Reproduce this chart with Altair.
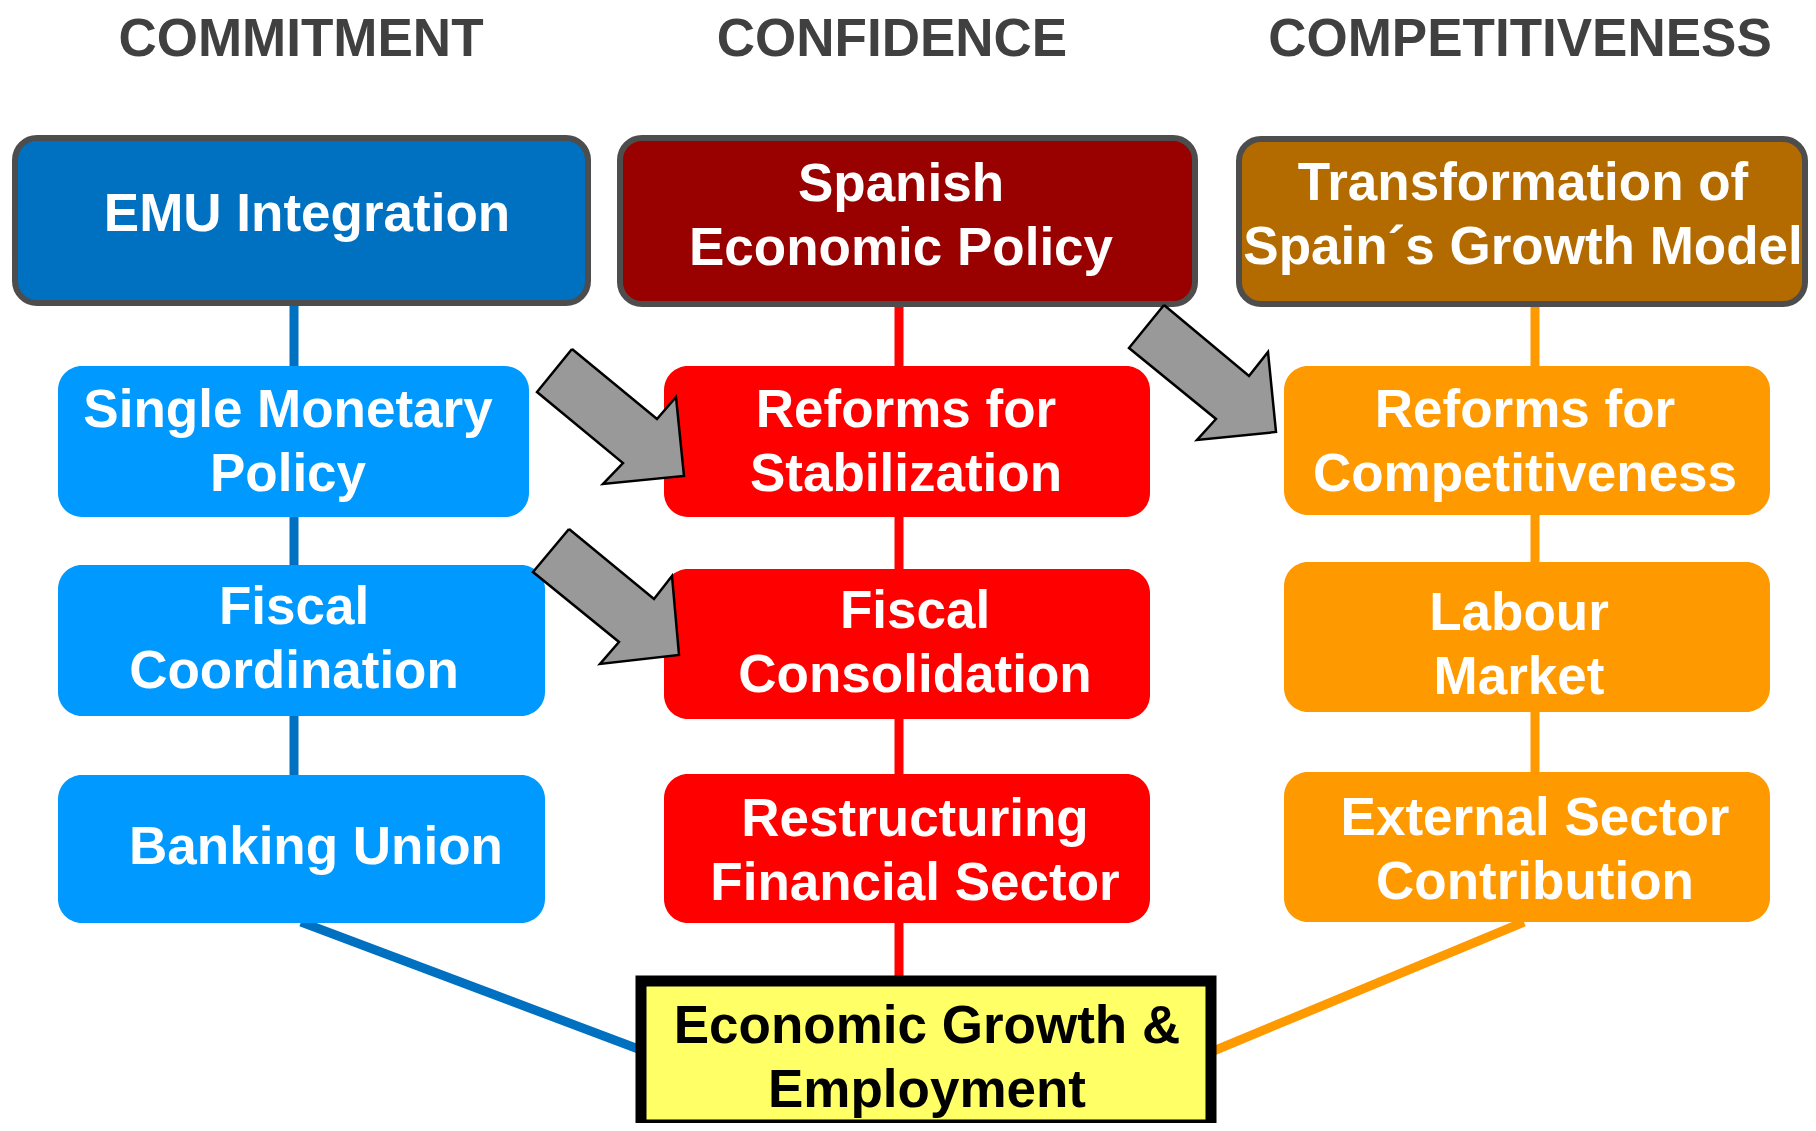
import altair as alt
import pandas as pd

FONT = "Liberation Sans, Arial, sans-serif"

# ---- column headings ----
heading_text = ["COMMITMENT", "CONFIDENCE", "COMPETITIVENESS"]
heading_cx = [301, 892, 1520]
heading_base = [56, 56, 56]

# ---- top boxes ----
top_labels = ["EMU Integration", "Spanish\nEconomic Policy", "Transformation of\nSpain´s Growth Model"]
top_x0 = [15, 620, 1239]
top_x1 = [588, 1195, 1805]
top_y0 = [138, 138, 139]
top_y1 = [303, 304, 304]
top_fill = ["#0070C0", "#990000", "#B36B00"]
top_text_cx = [307, 901, 1523]
top_text_base = [231, 201, 200]

# ---- sub boxes ----
sub_labels = ["Single Monetary\nPolicy", "Fiscal\nCoordination", "Banking Union",
              "Reforms for\nStabilization", "Fiscal\nConsolidation", "Restructuring\nFinancial Sector",
              "Reforms for\nCompetitiveness", "Labour\nMarket", "External Sector\nContribution"]
sub_x0 = [58, 58, 58, 664, 664, 664, 1284, 1284, 1284]
sub_x1 = [529, 545, 545, 1150, 1150, 1150, 1770, 1770, 1770]
sub_y0 = [366, 565, 775, 366, 569, 774, 366, 562, 772]
sub_y1 = [517, 716, 923, 517, 719, 923, 515, 712, 922]
sub_fill = ["#0099FF"] * 3 + ["#FF0000"] * 3 + ["#FF9900"] * 3
sub_text_cx = [288, 294, 316, 906, 915, 915, 1525, 1519, 1535]
sub_text_base = [427, 624, 864, 427, 628, 836, 427, 630, 835]

# ---- bottom box ----
bottom_label = "Economic Growth &\nEmployment"
bottom_box = [641, 1211, 981, 1125]
bottom_text_cx = 927
bottom_text_base = 1043

LINE_GAP = 64

# ---- connectors ----
conn_x = [294, 899, 1535, 301, 1524]
conn_y = [303, 304, 304, 922, 922]
conn_x2 = [294, 899, 1535, 641, 1211]
conn_y2 = [776, 981, 772, 1050, 1052]
conn_color = ["#0070C0", "#FF0000", "#FF9900", "#0070C0", "#FF9900"]

# ---- grey block arrows (polygon vertices) ----
arrow_1_x = [572, 657, 676, 684, 603, 623, 537, 572]
arrow_1_y = [349, 419, 397, 476, 484, 463, 392, 349]
arrow_2_x = [569, 654, 672, 679, 600, 619, 533, 569]
arrow_2_y = [529, 599, 576, 655, 664, 642, 572, 529]
arrow_3_x = [1164, 1249, 1268, 1276, 1197, 1216, 1129, 1164]
arrow_3_y = [305, 376, 352, 432, 440, 419, 348, 305]

# ---------------- tables ----------------
xs = alt.Scale(domain=[8, 1808], nice=False, zero=False)
ys = alt.Scale(domain=[8, 1123], nice=False, zero=False, reverse=True)


def X(f):
    return alt.X(f, type="quantitative", scale=xs, axis=None)


def Y(f):
    return alt.Y(f, type="quantitative", scale=ys, axis=None)


conn_df = pd.DataFrame({"x": conn_x, "y": conn_y, "x2": conn_x2, "y2": conn_y2, "c": conn_color})
top_df = pd.DataFrame({"x": top_x0, "x2": top_x1, "y": top_y0, "y2": top_y1, "c": top_fill})
sub_df = pd.DataFrame({"x": sub_x0, "x2": sub_x1, "y": sub_y0, "y2": sub_y1, "c": sub_fill})
bot_df = pd.DataFrame({"x": [bottom_box[0]], "x2": [bottom_box[1]], "y": [bottom_box[2]], "y2": [bottom_box[3]]})

arrow_rows = []
for k, (ax, ay) in enumerate([(arrow_1_x, arrow_1_y), (arrow_2_x, arrow_2_y), (arrow_3_x, arrow_3_y)]):
    for i, (px, py) in enumerate(zip(ax, ay)):
        arrow_rows.append({"arrow": f"a{k}", "i": i, "x": px, "y": py})
arrow_df = pd.DataFrame(arrow_rows)

text_rows = []
for lab, cx, b in zip(top_labels + sub_labels, top_text_cx + sub_text_cx, top_text_base + sub_text_base):
    for j, line in enumerate(lab.split("\n")):
        text_rows.append({"t": line, "x": cx, "y": b + j * LINE_GAP, "c": "white"})
for j, line in enumerate(bottom_label.split("\n")):
    text_rows.append({"t": line, "x": bottom_text_cx, "y": bottom_text_base + j * LINE_GAP, "c": "black"})
for t, cx, b in zip(heading_text, heading_cx, heading_base):
    text_rows.append({"t": t, "x": cx, "y": b, "c": "#404040"})
text_df = pd.DataFrame(text_rows)

# ---------------- layers ----------------
connectors = alt.Chart(conn_df).mark_rule(strokeWidth=9, strokeCap="butt").encode(
    x=X("x"), y=Y("y"), x2="x2", y2="y2", color=alt.Color("c:N", scale=None)
)

top_boxes = alt.Chart(top_df).mark_rect(cornerRadius=22, stroke="#4D4D4D", strokeWidth=6).encode(
    x=X("x"), x2="x2", y=Y("y"), y2="y2", fill=alt.Fill("c:N", scale=None)
)

sub_boxes = alt.Chart(sub_df).mark_rect(cornerRadius=24).encode(
    x=X("x"), x2="x2", y=Y("y"), y2="y2", fill=alt.Fill("c:N", scale=None)
)

bottom = alt.Chart(bot_df).mark_rect(fill="#FFFF66", stroke="black", strokeWidth=11).encode(
    x=X("x"), x2="x2", y=Y("y"), y2="y2"
)

arrows = alt.Chart(arrow_df).mark_line(
    fill="#999999", stroke="black", strokeWidth=2.5, strokeJoin="miter"
).encode(x=X("x"), y=Y("y"), order="i:Q", detail="arrow:N")

texts = alt.Chart(text_df).mark_text(
    font=FONT, fontSize=53, fontWeight="bold", align="center", baseline="alphabetic"
).encode(x=X("x"), y=Y("y"), text="t:N", color=alt.Color("c:N", scale=None))

chart = alt.layer(connectors, top_boxes, sub_boxes, bottom, arrows, texts).properties(
    width=1800, height=1115, padding=0, autosize="none", background="white"
).configure_view(strokeWidth=0)

chart.save("out.html", embed_options={"renderer": "svg", "actions": False})
